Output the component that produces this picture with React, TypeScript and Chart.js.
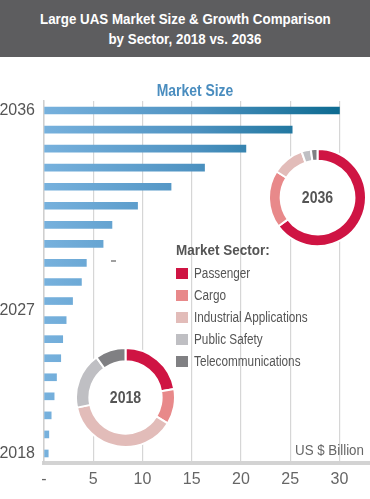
import React, { useEffect, useRef } from 'react';
import { Chart, registerables } from 'chart.js';
Chart.register(...registerables);

const FONT = '"Liberation Sans", Arial, sans-serif';

const years = [2018, 2019, 2020, 2021, 2022, 2023, 2024, 2025, 2026, 2027, 2028, 2029, 2030, 2031, 2032, 2033, 2034, 2035, 2036];
const marketSize = [0.43, 0.49, 0.73, 1.03, 1.27, 1.7, 1.9, 2.25, 2.9, 3.8, 4.3, 6.0, 6.9, 9.5, 12.9, 16.3, 20.5, 25.2, 30.0];
const xTickValues = [0, 5, 10, 15, 20, 25, 30];
const yTickLabels = ['2018', '2027', '2036'];
const yTickPositions = [2018, 2025.5, 2036];

const sectors = ['Passenger', 'Cargo', 'Industrial Applications', 'Public Safety', 'Telecommunications'];
const sectorColors = ['#cf1443', '#e8898a', '#e2bcb9', '#bfbfc3', '#808083'];
const share2018 = [22.3, 11.5, 38.0, 18.3, 10.0];
const share2036 = [64.9, 19.1, 10.7, 3.1, 2.2];

const titleLines = ['Large UAS Market Size & Growth Comparison', 'by Sector, 2018 vs. 2036'];
const subTitle = 'Market Size';
const unitLabel = 'US $ Billion';
const legendTitle = 'Market Sector:';

function BarChart() {
  const ref = useRef<HTMLCanvasElement>(null);
  useEffect(() => {
    const canvas = ref.current!;
    const chart = new Chart(canvas, {
      type: 'bar',
      data: {
        datasets: [
          {
            data: years.map((y, i) => ({ x: marketSize[i], y })),
            barThickness: 7,
            backgroundColor: (ctx: any) => {
              const c = ctx.chart;
              const xs = c.scales && c.scales.x;
              if (!c.chartArea || !xs) return '#5a9dcc';
              const g = c.ctx.createLinearGradient(xs.getPixelForValue(0), 0, xs.getPixelForValue(30), 0);
              g.addColorStop(0, '#77b1dd');
              g.addColorStop(0.5, '#4f93c2');
              g.addColorStop(1, '#0d6b91');
              return g;
            },
            borderWidth: 0,
          },
        ],
      },
      options: {
        animation: false,
        responsive: false,
        indexAxis: 'y',
        layout: { padding: { top: 101, left: 0, right: 0, bottom: 0 } },
        plugins: { legend: { display: false }, tooltip: { enabled: false }, title: { display: false } },
        scales: {
          x: {
            type: 'linear',
            min: 0,
            max: 33.1,
            afterBuildTicks: (axis: any) => {
              axis.ticks = xTickValues.map((v) => ({ value: v }));
            },
            afterFit: (scale: any) => {
              scale.height = 36;
            },
            grid: { color: '#d6d6d6', lineWidth: 1.2, drawTicks: false },
            border: { display: true, color: '#d3d3d3', width: 4 },
            ticks: {
              padding: 7,
              color: '#666',
              font: { family: FONT, size: 16 },
              callback: (v: any) => (v === 0 ? '-' : String(v)),
            },
          },
          y: {
            type: 'linear',
            offset: false,
            min: 2017.5,
            max: 2036.5,
            afterBuildTicks: (axis: any) => {
              axis.ticks = yTickPositions.map((v) => ({ value: v }));
            },
            afterFit: (scale: any) => {
              scale.width = 44;
            },
            grid: { display: false, drawTicks: false, offset: false },
            border: { display: true, color: '#cfcfcf', width: 1.5 },
            ticks: {
              autoSkip: false,
              padding: 9,
              color: '#555',
              font: { family: FONT, size: 16 },
              callback: (v: any) => {
                const i = yTickPositions.indexOf(v);
                return i >= 0 ? yTickLabels[i] : '';
              },
            },
          },
        },
      } as any,
    });
    return () => chart.destroy();
  }, []);
  return <canvas ref={ref} width={370} height={499} style={{ position: 'absolute', left: 0, top: 0 }} />;
}

function Donut({ values, label, size, cutout, left, top }: { values: number[]; label: string; size: number; cutout: string; left: number; top: number }) {
  const ref = useRef<HTMLCanvasElement>(null);
  useEffect(() => {
    const canvas = ref.current!;
    const bgPlugin = {
      id: 'whiteDisk',
      beforeDatasetsDraw(chart: any) {
        const arc = chart.getDatasetMeta(0).data[0];
        if (!arc) return;
        const c = chart.ctx;
        c.save();
        c.fillStyle = '#ffffff';
        c.beginPath();
        c.arc(arc.x, arc.y, arc.outerRadius, 0, Math.PI * 2);
        c.fill();
        c.restore();
      },
      afterDatasetsDraw(chart: any) {
        const arc = chart.getDatasetMeta(0).data[0];
        if (!arc) return;
        const c = chart.ctx;
        c.save();
        c.translate(arc.x, arc.y + 1);
        c.scale(0.88, 1);
        c.fillStyle = '#555';
        c.font = `bold 16px ${FONT}`;
        c.textAlign = 'center';
        c.textBaseline = 'middle';
        c.fillText(label, 0, 0);
        c.restore();
      },
    };
    const chart = new Chart(canvas, {
      type: 'doughnut',
      data: {
        labels: sectors,
        datasets: [
          {
            data: values,
            backgroundColor: sectorColors,
            borderColor: '#ffffff',
            borderWidth: 2,
          },
        ],
      },
      options: {
        animation: false,
        responsive: false,
        cutout,
        layout: { padding: 0 },
        plugins: { legend: { display: false }, tooltip: { enabled: false } },
      } as any,
      plugins: [bgPlugin],
    });
    return () => chart.destroy();
  }, []);
  return <canvas ref={ref} width={size} height={size} style={{ position: 'absolute', left, top }} />;
}

const narrow = (sx: number, origin: string): React.CSSProperties => ({
  display: 'inline-block',
  transform: `scaleX(${sx})`,
  transformOrigin: origin,
  whiteSpace: 'nowrap',
});

export default function App() {
  useEffect(() => {
    document.body.style.margin = '0';
    document.body.style.background = '#fff';
  }, []);
  return (
    <div style={{ position: 'relative', width: 370, height: 499, overflow: 'hidden', background: '#fff', fontFamily: FONT }}>
      <BarChart />
      <div
        style={{
          position: 'absolute',
          left: 0,
          top: 0,
          width: 370,
          height: 57,
          background: '#5d5d5f',
          color: '#fff',
          fontWeight: 'bold',
          fontSize: 15,
          lineHeight: '20px',
          textAlign: 'center',
          paddingTop: 9,
          boxSizing: 'border-box',
        }}
      >
        {titleLines.map((t) => (
          <div key={t}>
            <span style={narrow(0.89, 'center')}>{t}</span>
          </div>
        ))}
      </div>
      <div
        style={{
          position: 'absolute',
          left: 95,
          width: 200,
          top: 81,
          textAlign: 'center',
          color: '#4a8dbf',
          fontWeight: 'bold',
          fontSize: 16,
          lineHeight: '20px',
        }}
      >
        <span style={narrow(0.87, 'center')}>{subTitle}</span>
      </div>
      <div style={{ position: 'absolute', left: 111, top: 260, width: 5, height: 1.5, background: '#a0a0a0' }} />
      <div style={{ position: 'absolute', right: 6, top: 441, color: '#666', fontSize: 14.5, lineHeight: '18px' }}>
        <span style={narrow(0.92, 'right center')}>{unitLabel}</span>
      </div>
      <div style={{ position: 'absolute', left: 176, top: 240, color: '#555' }}>
        <div style={{ fontWeight: 'bold', fontSize: 14.5, lineHeight: '20px', marginBottom: 2 }}>
          <span style={narrow(0.93, 'left center')}>{legendTitle}</span>
        </div>
        {sectors.map((s, i) => (
          <div key={s} style={{ display: 'flex', alignItems: 'center', height: 22 }}>
            <div style={{ width: 12, height: 11, background: sectorColors[i], marginRight: 6 }} />
            <div style={{ fontSize: 14, lineHeight: '18px' }}>
              <span style={narrow(0.84, 'left center')}>{s}</span>
            </div>
          </div>
        ))}
      </div>
      <Donut values={share2036} label="2036" size={99} cutout="76%" left={268} top={148} />
      <Donut values={share2018} label="2018" size={101} cutout="73%" left={75} top={347} />
    </div>
  );
}
